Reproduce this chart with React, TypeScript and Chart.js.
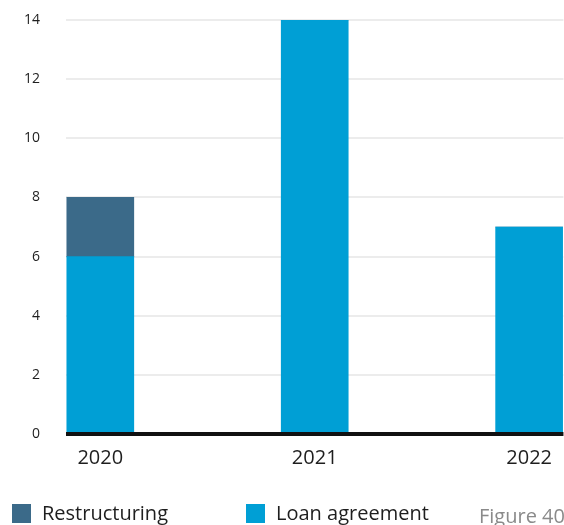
import React, { useEffect, useRef } from "react";
import { Chart, registerables } from "chart.js";

Chart.register(...registerables);

const years = ["2020", "2021", "2022"];
const loanAgreement = [6, 14, 7];
const restructuring = [2, 0, 0];
const yTicks = [0, 2, 4, 6, 8, 10, 12, 14];
const figureLabel = "Figure 40";

const COLOR_LOAN = "#009fd5";
const COLOR_RESTR = "#3b6a89";
const FONT = "'Open Sans', 'DejaVu Sans', sans-serif";

export default function App() {
  const ref = useRef<HTMLCanvasElement | null>(null);

  useEffect(() => {
    if (!ref.current) return;
    const legendItems = [
      { label: "Restructuring", color: COLOR_RESTR, box: 12, text: 42 },
      { label: "Loan agreement", color: COLOR_LOAN, box: 246, text: 276 },
    ];
    const extras = {
      id: "extras",
      afterDatasetsDraw(chart: any) {
        const ctx = chart.ctx;
        const area = chart.chartArea;
        const y0 = chart.scales.y.getPixelForValue(0);
        ctx.save();
        ctx.strokeStyle = "#111111";
        ctx.lineWidth = 4;
        ctx.beginPath();
        ctx.moveTo(area.left, y0);
        ctx.lineTo(area.right, y0);
        ctx.stroke();
        ctx.restore();
      },
      afterDraw(chart: any) {
        const ctx = chart.ctx;
        ctx.save();
        ctx.font = `20px ${FONT}`;
        ctx.textBaseline = "alphabetic";
        ctx.textAlign = "left";
        legendItems.forEach((it) => {
          ctx.fillStyle = it.color;
          ctx.fillRect(it.box, 504, 19, 19);
          ctx.fillStyle = "#1e1e1e";
          ctx.fillText(it.label, it.text, 520);
        });
        ctx.fillStyle = "#8a8a8a";
        ctx.fillText(figureLabel, 479, 523);
        ctx.restore();
      },
    };

    const chart = new Chart(ref.current, {
      type: "bar",
      data: {
        datasets: [
          {
            label: "Loan agreement",
            data: loanAgreement.map((v, i) => ({ x: i, y: v })),
            backgroundColor: COLOR_LOAN,
            barThickness: 67,
          },
          {
            label: "Restructuring",
            data: restructuring.map((v, i) => ({ x: i, y: v })),
            backgroundColor: COLOR_RESTR,
            barThickness: 67,
          },
        ],
      },
      options: {
        animation: false,
        responsive: true,
        maintainAspectRatio: false,
        layout: { padding: { top: 20, left: 0, right: 0, bottom: 0 } },
        plugins: {
          legend: { display: false },
          tooltip: { enabled: false },
        },
        scales: {
          x: {
            type: "linear",
            stacked: true,
            offset: false,
            min: -0.16,
            max: 2.16,
            grid: { display: false, drawTicks: false, offset: false },
            border: { display: false },
            afterFit: (s: any) => {
              s.height = 91;
            },
            ticks: {
              stepSize: 1,
              includeBounds: false,
              padding: 12,
              color: "#1e1e1e",
              font: { family: FONT, size: 20 },
              callback: (v: any) => years[v] ?? "",
            },
          },
          y: {
            stacked: true,
            min: 0,
            max: 14,
            grid: {
              color: "#ececec",
              lineWidth: 2,
              drawTicks: true,
              tickLength: 26,
              tickColor: "rgba(0,0,0,0)",
            },
            border: { display: false },
            afterFit: (s: any) => {
              s.width = 66;
            },
            afterBuildTicks: (s: any) => {
              s.ticks = yTicks.map((v) => ({ value: v }));
            },
            ticks: {
              padding: 0,
              color: "#1e1e1e",
              font: { family: FONT, size: 14 },
            },
          },
        },
      },
      plugins: [extras],
    });
    return () => chart.destroy();
  }, []);

  return (
    <div style={{ position: "absolute", left: 0, top: 0, width: 564, height: 525 }}>
      <canvas ref={ref} />
    </div>
  );
}
